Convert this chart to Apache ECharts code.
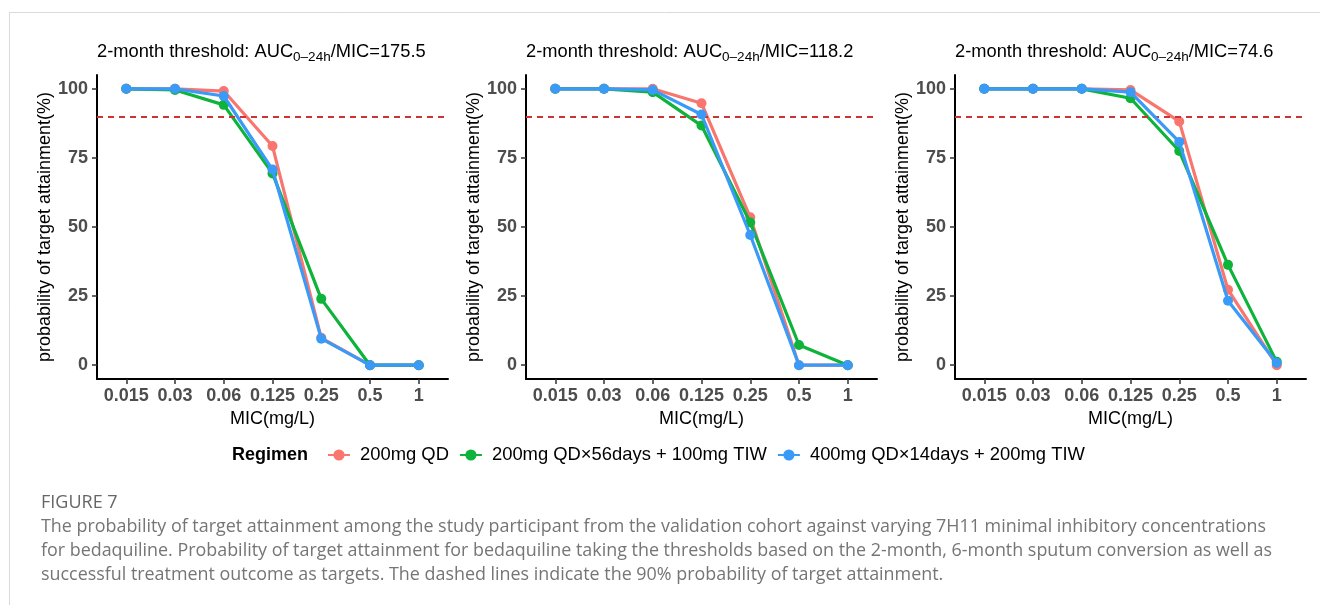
<!DOCTYPE html>
<html>
<head>
<meta charset="utf-8">
<script src="https://cdn.jsdelivr.net/npm/echarts@6/dist/echarts.min.js"></script>
<style>
  html, body { margin: 0; padding: 0; background: #fff; }
  #chart { width: 1320px; height: 605px; }
</style>
</head>
<body>
<div id="chart"></div>
<script>
const micLabels = ["0.015", "0.03", "0.06", "0.125", "0.25", "0.5", "1"];
const yTicks = [0, 25, 50, 75, 100];
const thresholds = ["175.5", "118.2", "74.6"];
const regimens = [
  "200mg QD",
  "200mg QD×56days + 100mg TIW",
  "400mg QD×14days + 200mg TIW",
];
const colors = ["#F8766D", "#0DB33A", "#3A9AF8"];
const targetLine = 90;

// panel 1: AUC/MIC = 175.5
const qd175 = [100, 100, 99.2, 79.3, 9.9, 0, 0];
const tiw100At175 = [100, 99.6, 94.2, 69.4, 24.0, 0, 0];
const tiw200At175 = [100, 100, 97.4, 70.8, 9.6, 0, 0];
// panel 2: AUC/MIC = 118.2
const qd118 = [100, 100, 100, 94.8, 53.5, 0, 0];
const tiw100At118 = [100, 100, 98.8, 86.7, 51.6, 7.3, 0];
const tiw200At118 = [100, 100, 99.6, 90.7, 47.1, 0, 0];
// panel 3: AUC/MIC = 74.6
const qd75 = [100, 100, 100, 99.6, 88.2, 27.3, 0];
const tiw100At75 = [100, 100, 100, 96.6, 77.5, 36.3, 1.2];
const tiw200At75 = [100, 100, 100, 98.8, 80.8, 23.3, 0.8];

const panels = [
  [qd175, tiw100At175, tiw200At175],
  [qd118, tiw100At118, tiw200At118],
  [qd75, tiw100At75, tiw200At75],
];

const captionLines = [
  "The probability of target attainment among the study participant from the validation cohort against varying 7H11 minimal inhibitory concentrations",
  "for bedaquiline. Probability of target attainment for bedaquiline taking the thresholds based on the 2-month, 6-month sputum conversion as well as",
  "successful treatment outcome as targets. The dashed lines indicate the 90% probability of target attainment.",
];

const gridLefts = [97, 526, 955];
const font = "Liberation Sans, Arial, sans-serif";
const capFont = "Open Sans, sans-serif";

const chart = echarts.init(document.getElementById("chart"));

const grids = gridLefts.map((left) => ({ left, top: 75, width: 351, height: 304 }));

const xAxes = gridLefts.map((_, i) => ({
  type: "value",
  gridIndex: i,
  min: -0.6,
  max: 6.6,
  name: "MIC(mg/L)",
  nameLocation: "middle",
  nameGap: 28,
  nameTextStyle: { color: "#000", fontSize: 18, fontFamily: font },
  axisLine: { show: true, onZero: false, lineStyle: { color: "#000", width: 2 } },
  axisTick: { show: true, length: 5, customValues: micLabels.map((_, k) => k), lineStyle: { color: "#333", width: 1.5 } },
  axisLabel: {
    customValues: micLabels.map((_, k) => k),
    formatter: (v) => micLabels[Math.round(v)],
    color: "#4d4d4d",
    fontWeight: "bold",
    fontSize: 18,
    fontFamily: font,
    margin: 8,
  },
  splitLine: { show: false },
}));

const yAxes = gridLefts.map((_, i) => ({
  type: "value",
  gridIndex: i,
  min: -5,
  max: 105,
  name: "probability of target attainment(%)",
  nameLocation: "middle",
  nameGap: 42,
  nameTextStyle: { color: "#000", fontSize: 18, fontFamily: font },
  axisLine: { show: true, onZero: false, lineStyle: { color: "#000", width: 2 } },
  axisTick: { show: true, length: 5, customValues: yTicks, lineStyle: { color: "#333", width: 1.5 } },
  axisLabel: {
    customValues: yTicks,
    color: "#4d4d4d",
    fontWeight: "bold",
    fontSize: 18,
    fontFamily: font,
    margin: 9,
  },
  splitLine: { show: false },
}));

const series = [];
panels.forEach((panel, p) => {
  panel.forEach((values, r) => {
    series.push({
      name: regimens[r],
      type: "line",
      xAxisIndex: p,
      yAxisIndex: p,
      data: values.map((v, k) => [k, v]),
      symbol: "circle",
      symbolSize: 10,
      lineStyle: { color: colors[r], width: 3.2 },
      itemStyle: { color: colors[r] },
      z: 3 + r,
      markLine: r === 0 ? {
        silent: true,
        symbol: "none",
        label: { show: false },
        lineStyle: { color: "#CC3333", type: [6, 5], width: 2 },
        data: [{ yAxis: targetLine }],
      } : undefined,
    });
  });
});

const titles = thresholds.map((t, i) => ({
  left: gridLefts[i],
  top: 40,
  padding: 0,
  text: `{a|2-month threshold: AUC}{s|0–24h}{a|/MIC=${t}}`,
  textStyle: {
    fontWeight: "normal",
    rich: {
      a: { fontSize: 18.3, fontWeight: "normal", color: "#000", fontFamily: font, lineHeight: 24 },
      s: { fontSize: 13.5, fontWeight: "normal", color: "#000", fontFamily: font, lineHeight: 24, padding: [10, 0, 0, 0] },
    },
  },
}));

const graphic = [
  { type: "line", shape: { x1: 9, y1: 12.5, x2: 1320, y2: 12.5 }, style: { stroke: "#d9d9d9", lineWidth: 1 } },
  { type: "line", shape: { x1: 9.5, y1: 12, x2: 9.5, y2: 605 }, style: { stroke: "#d9d9d9", lineWidth: 1 } },
  {
    type: "text", left: 232, top: 446,
    style: { text: "Regimen", fontSize: 18, fontWeight: "bold", fill: "#000", fontFamily: font },
  },
  {
    type: "text", left: 41, top: 494,
    style: { text: "FIGURE 7", fontSize: 18, fill: "#666", fontFamily: capFont },
  },
  ...captionLines.map((line, i) => ({
    type: "text", left: 41, top: 518 + i * 24,
    style: { text: line, fontSize: 17.9, fill: "#757575", fontFamily: capFont },
  })),
];

chart.setOption({
  animation: false,
  title: titles,
  grid: grids,
  xAxis: xAxes,
  yAxis: yAxes,
  legend: {
    left: 327,
    top: 446,
    padding: 0,
    data: regimens,
    itemWidth: 22,
    itemHeight: 14,
    itemGap: 10,
    textStyle: { fontSize: 18.4, color: "#000", fontFamily: font, padding: [0, 0, 0, 5] },
  },
  series,
  graphic,
});
</script>
</body>
</html>
